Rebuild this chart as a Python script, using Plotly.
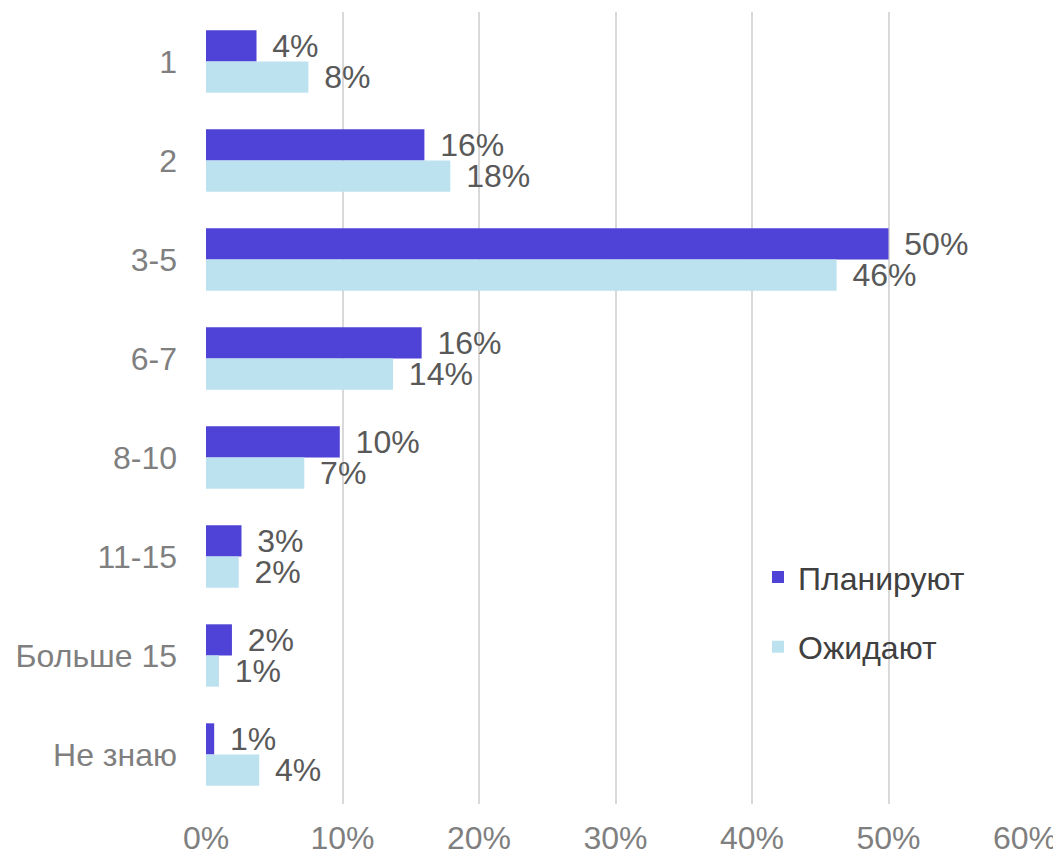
import plotly.graph_objects as go

categories = ["1", "2", "3-5", "6-7", "8-10", "11-15", "Больше 15", "Не знаю"]
planned = [3.7, 16.0, 50.0, 15.8, 9.8, 2.6, 1.9, 0.6]
planned_labels = ["4%", "16%", "50%", "16%", "10%", "3%", "2%", "1%"]
expected = [7.5, 17.9, 46.2, 13.7, 7.2, 2.4, 0.95, 3.9]
expected_labels = ["8%", "18%", "46%", "14%", "7%", "2%", "1%", "4%"]
x_ticks = [0, 10, 20, 30, 40, 50, 60]
x_tick_labels = ["0%", "10%", "20%", "30%", "40%", "50%", "60%"]

pad = "\u2009\u2009"
fig = go.Figure()
fig.add_trace(go.Bar(
    y=categories, x=planned, orientation="h", name="Планируют",
    marker=dict(color="#4F42D6", line=dict(width=0)),
    text=[pad + t for t in planned_labels], textposition="outside",
    textfont=dict(size=32, color="#595959", family="Liberation Sans"),
    constraintext="none",
    cliponaxis=False, legendgroup="a",
))
fig.add_trace(go.Bar(
    y=categories, x=expected, orientation="h", name="Ожидают",
    marker=dict(color="#BCE2EF", line=dict(width=0)),
    text=[pad + t for t in expected_labels], textposition="outside",
    textfont=dict(size=32, color="#595959", family="Liberation Sans"),
    constraintext="none",
    cliponaxis=False, legendgroup="b",
))

fig.update_layout(
    width=1053, height=846,
    margin=dict(l=198, r=36, t=4, b=50, autoexpand=False),
    barmode="group", bargap=0.37, bargroupgap=0,
    plot_bgcolor="white", paper_bgcolor="white",
    font=dict(family="Liberation Sans", size=32, color="#595959"),
    showlegend=True,
    legend=dict(
        x=0.674, y=0.321, xanchor="left", yanchor="top",
        font=dict(size=32, color="#404040"),
        traceorder="grouped", tracegroupgap=25,
        bgcolor="rgba(0,0,0,0)",
    ),
    xaxis=dict(
        range=[0, 60], tickvals=x_ticks, ticktext=x_tick_labels,
        showgrid=True, gridcolor="#D9D9D9", gridwidth=1.5,
        zeroline=False, showline=False, automargin=False,
        tickfont=dict(size=32, color="#7F7F7F"),
        ticks="", ticklabelstandoff=12,
    ),
    yaxis=dict(
        autorange="reversed", showgrid=False, zeroline=False,
        showline=False, ticks="", automargin=False,
        tickfont=dict(size=32, color="#7F7F7F"),
        ticklabelstandoff=28,
    ),
)
fig.update_traces(hoverinfo="skip")
fig.write_html("out.html")
